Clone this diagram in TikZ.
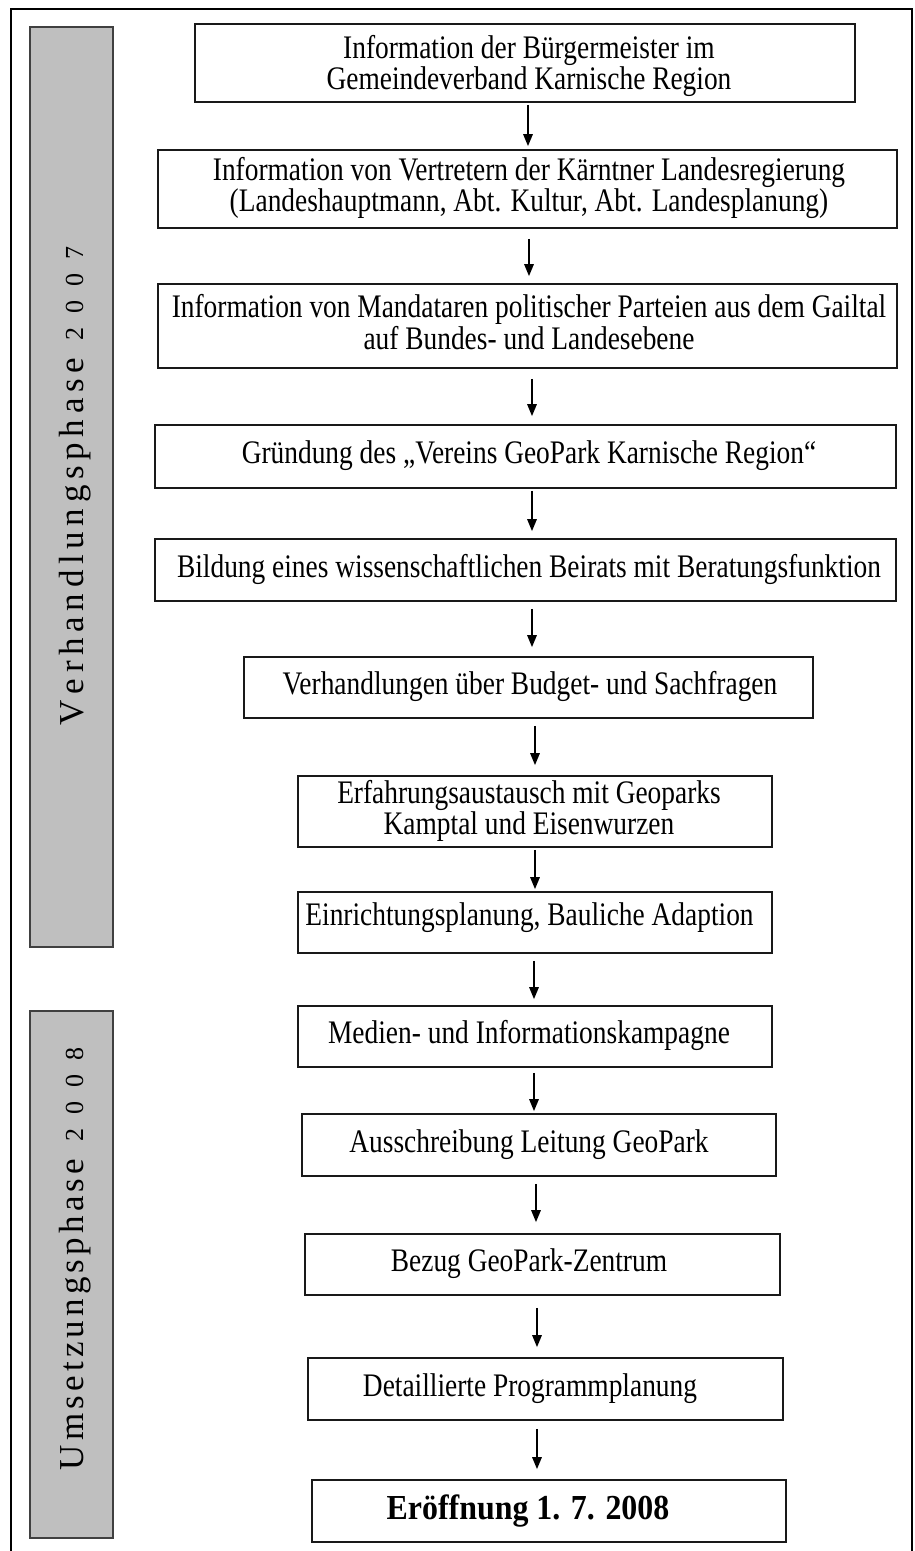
\documentclass[tikz,border=0pt]{standalone}
\usepackage{fontspec}
\usepackage{graphicx}
\setmainfont{Liberation Serif}
\usetikzlibrary{arrows.meta}
\newcommand\lspA{\kern5.7pt}
\newcommand\lspB{\kern4.2pt}
\newcommand\lspD{\kern14pt}
\newcommand\tallbox[1]{\scalebox{1}[1.2]{\begin{tabular}{@{}c@{}}#1\end{tabular}}}
\begin{document}
\begin{tikzpicture}[x=1pt,y=-1pt,
  box/.style={draw=black!90, line width=1.8pt, fill=white, inner sep=0pt},
  txt/.style={font=\fontsize{27.4}{23.5}\selectfont, align=center, inner sep=0pt},
  arr/.style={line width=1.6pt, -{Triangle[length=12pt,width=9.5pt]}},
  phase/.style={draw=black!75, line width=1.6pt, fill=black!25, inner sep=0pt},
  phasetxt/.style={rotate=90, anchor=base, inner sep=0pt}]
\useasboundingbox (0,0) rectangle (915,1551);
% outer frame (open at the bottom)
\draw[line width=1.3pt] (11,1551) -- (11,9) -- (912,9) -- (912,1551);

% phase bars
\node[phase, minimum width=83pt, minimum height=920pt] (p1) at (71.5,487) {};
\node[phase, minimum width=83pt, minimum height=527pt] (p2) at (71.5,1274.5) {};
\node[phasetxt] (p1t) at (83,486) {\fontsize{35}{35}\selectfont V\lspA e\lspA r\lspA h\lspA a\lspA n\lspA d\lspA l\lspA u\lspA n\lspA g\lspA s\lspA p\lspA h\lspA a\lspA s\lspA e\kern17pt{\fontsize{26}{26}\selectfont 2\lspD 0\lspD 0\lspD 7}};
\node[phasetxt] (p2t) at (83,1259) {\fontsize{35}{35}\selectfont U\lspB m\lspB s\lspB e\lspB t\lspB z\lspB u\lspB n\lspB g\lspB s\lspB p\lspB h\lspB a\lspB s\lspB e\kern17pt{\fontsize{26}{26}\selectfont 2\lspD 0\lspD 0\lspD 8}};

% boxes
\node[box, minimum width=660pt, minimum height=78pt] (b1) at (525,63) {};
\node[box, minimum width=739pt, minimum height=78pt] (b2) at (527.5,189) {};
\node[box, minimum width=739pt, minimum height=84pt] (b3) at (527.5,326) {};
\node[box, minimum width=741pt, minimum height=63pt] (b4) at (525.5,456.5) {};
\node[box, minimum width=741pt, minimum height=62pt] (b5) at (525.5,570) {};
\node[box, minimum width=569pt, minimum height=61pt] (b6) at (528.5,687.5) {};
\node[box, minimum width=474pt, minimum height=71pt] (b7) at (535,811.5) {};
\node[box, minimum width=474pt, minimum height=61pt] (b8) at (535,922.5) {};
\node[box, minimum width=474pt, minimum height=61pt] (b9) at (535,1036.5) {};
\node[box, minimum width=474pt, minimum height=62pt] (b10) at (539,1145) {};
\node[box, minimum width=475pt, minimum height=61pt] (b11) at (542.5,1264.5) {};
\node[box, minimum width=475pt, minimum height=62pt] (b12) at (545.5,1389) {};
\node[box, minimum width=474pt, minimum height=62pt] (b13) at (549,1511) {};

% texts
\node[txt] (t1) at (529,67) {\tallbox{Information der Bürgermeister im\\Gemeindeverband Karnische Region}};
\node[txt] (t2) at (529,189) {\tallbox{Information von Vertretern der Kärntner Landesregierung\\(Landeshauptmann, Abt. Kultur, Abt. Landesplanung)}};
\node[txt] (t3) at (529,326) {\tallbox{Information von Mandataren politischer Parteien aus dem Gailtal\\auf Bundes- und Landesebene}};
\node[txt] (t4) at (529,456.5) {\tallbox{Gründung des „Vereins GeoPark Karnische Region“}};
\node[txt] (t5) at (529,570) {\tallbox{Bildung eines wissenschaftlichen Beirats mit Beratungsfunktion}};
\node[txt] (t6) at (530,687.5) {\tallbox{Verhandlungen über Budget- und Sachfragen}};
\node[txt] (t7) at (529,811.5) {\tallbox{Erfahrungsaustausch mit Geoparks\\Kamptal und Eisenwurzen}};
\node[txt] (t8) at (529.5,918) {\tallbox{Einrichtungsplanung, Bauliche Adaption}};
\node[txt] (t9) at (529,1036.5) {\tallbox{Medien- und Informationskampagne}};
\node[txt] (t10) at (529,1145) {\tallbox{Ausschreibung Leitung GeoPark}};
\node[txt] (t11) at (529,1264.5) {\tallbox{Bezug GeoPark-Zentrum}};
\node[txt] (t12) at (530,1389) {\tallbox{Detaillierte Programmplanung}};
\node[txt, font=\fontsize{31.9}{34}\selectfont\bfseries] (t13) at (528,1511) {\scalebox{1}[1.1]{Eröffnung 1. 7. 2008}};

% arrows
\draw[arr, shorten <=2pt, shorten >=3pt] ([xshift=3pt]b1.south) -- ([xshift=0.5pt]b2.north);
\draw[arr, shorten <=10pt, shorten >=7pt] ([xshift=1.5pt]b2.south) -- ([xshift=1.5pt]b3.north);
\draw[arr, shorten <=10pt, shorten >=8pt] ([xshift=4.5pt]b3.south) -- ([xshift=6.5pt]b4.north);
\draw[arr, shorten <=2pt, shorten >=7pt] ([xshift=6.5pt]b4.south) -- ([xshift=6.5pt]b5.north);
\draw[arr, shorten <=7pt, shorten >=9pt] ([xshift=6.5pt]b5.south) -- ([xshift=3.5pt]b6.north);
\draw[arr, shorten <=7pt, shorten >=10pt] ([xshift=6.5pt]b6.south) -- (b7.north);
\draw[arr, shorten <=2pt, shorten >=2pt] (b7.south) -- (b8.north);
\draw[arr, shorten <=7pt, shorten >=6pt] ([xshift=-1pt]b8.south) -- ([xshift=-1pt]b9.north);
\draw[arr, shorten <=5pt, shorten >=2pt] ([xshift=-1pt]b9.south) -- ([xshift=-5pt]b10.north);
\draw[arr, shorten <=7pt, shorten >=11pt] ([xshift=-3pt]b10.south) -- ([xshift=-6.5pt]b11.north);
\draw[arr, shorten <=12pt, shorten >=10pt] ([xshift=-5.5pt]b11.south) -- ([xshift=-8.5pt]b12.north);
\draw[arr, shorten <=8pt, shorten >=10pt] ([xshift=-8.5pt]b12.south) -- ([xshift=-12pt]b13.north);
\end{tikzpicture}
\end{document}
